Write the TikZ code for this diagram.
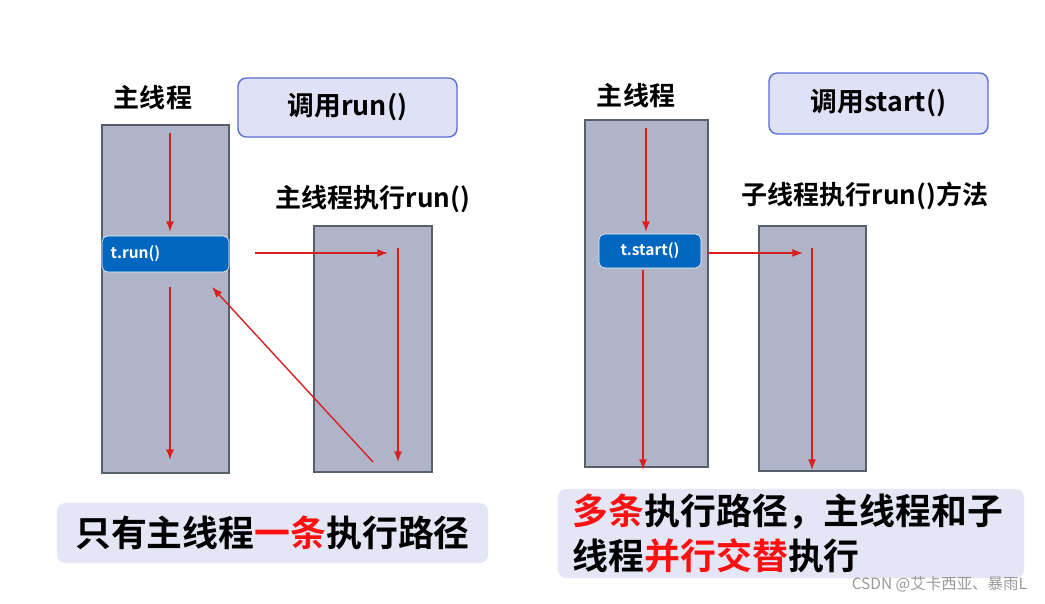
\documentclass[tikz,border=0pt]{standalone}
\usepackage{fontspec}
\setmainfont{Noto Sans CJK SC}[BoldFont={Noto Sans CJK SC Bold}]
\usetikzlibrary{arrows.meta,positioning}
\definecolor{colfill}{HTML}{B0B4C8}
\definecolor{colline}{HTML}{56606A}
\definecolor{callfill}{HTML}{DFE2F6}
\definecolor{callline}{HTML}{5B6FD6}
\definecolor{runblue}{HTML}{0066C0}
\definecolor{notefill}{HTML}{E4E6F6}
\definecolor{arrred}{HTML}{D92020}
\definecolor{hired}{HTML}{FF1010}

\begin{document}
\begin{tikzpicture}[x=0.025cm, y=-0.025cm, >=Latex]
\tikzset{
  column/.style = {rectangle, draw=colline, line width=1.2pt, fill=colfill, inner sep=0pt},
  callbox/.style = {rectangle, rounded corners=6pt, draw=callline, line width=1pt, fill=callfill, inner sep=0pt, font=\bfseries\fontsize{19}{22}\selectfont},
  invoke/.style = {rectangle, rounded corners=4pt, draw=white, fill=runblue, text=white, inner sep=0pt, font=\bfseries\fontsize{11}{12}\selectfont},
  note/.style = {rectangle, rounded corners=6pt, fill=notefill, inner sep=0pt, font=\bfseries\fontsize{25.5}{32}\selectfont},
  title/.style = {font=\bfseries\fontsize{18.5}{21}\selectfont},
  flow/.style = {->, arrred, line width=1pt}
}
\useasboundingbox (0,0) rectangle (1045,604);
\fill[white] (0,0) rectangle (1045,604);

% Left: calling run()
\node[title] (mainL) at (153,98) {主线程};
\node[callbox, minimum width=5.475cm, minimum height=1.475cm] (callrun) at (347.5,107.5) {调用run()};
\node[column, minimum width=3.175cm, minimum height=8.7cm] (colmainL) at (165.5,299) {};
\node[column, minimum width=2.95cm, minimum height=6.15cm] (colrunL) at (373,349) {};
\node[invoke, minimum width=3.175cm, minimum height=0.9cm] (trun) at (165.5,254) {\hspace*{-1.5cm}t.run()};
\node[title] (labelL) at (373,199) {主线程执行run()};
\coordinate (aL1) at (170,133); \coordinate (aL2) at (170,232);
\coordinate (aL3) at (170,287); \coordinate (aL4) at (170,460);
\coordinate (aL5) at (255,253); \coordinate (aL6) at (388,253);
\coordinate (aL7) at (398,248); \coordinate (aL8) at (398,462);
\coordinate (aL9) at (373,462); \coordinate (aL10) at (212,287);
\draw[flow] (aL1) -- (aL2);
\draw[flow] (aL3) -- (aL4);
\draw[flow] (aL5) -- (aL6);
\draw[flow] (aL7) -- (aL8);
\draw[flow] (aL9) -- (aL10);
\node[note, minimum width=10.775cm, minimum height=1.5cm] (noteL) at (272.5,533)
  {只有主线程\textcolor{hired}{一条}执行路径};

% Right: calling start()
\node[title] (mainR) at (636,96) {主线程};
\node[callbox, minimum width=5.475cm, minimum height=1.525cm] (callstart) at (878.5,103.5) {调用start()};
\node[column, minimum width=3.075cm, minimum height=8.675cm] (colmainR) at (646.5,293.5) {};
\node[column, minimum width=2.675cm, minimum height=6.125cm] (colrunR) at (812.5,348.5) {};
\node[invoke, minimum width=2.55cm, minimum height=0.85cm] (tstart) at (650,251) {t.start()};
\node[title] (labelR) at (865,196) {子线程执行run()方法};
\coordinate (aR1) at (646,128); \coordinate (aR2) at (646,232);
\coordinate (aR3) at (643,270); \coordinate (aR4) at (643,470);
\coordinate (aR5) at (708,253); \coordinate (aR6) at (803,253);
\coordinate (aR7) at (812,248); \coordinate (aR8) at (812,470);
\draw[flow] (aR1) -- (aR2);
\draw[flow] (aR3) -- (aR4);
\draw[flow] (aR5) -- (aR6);
\draw[flow] (aR7) -- (aR8);
\node[note, minimum width=11.65cm, minimum height=2.225cm] (noteR) at (791,533.5) {};
\node[anchor=west, font=\bfseries\fontsize{25.5}{32}\selectfont, align=left] (noteRtext) at (568,533.5)
  {\textcolor{hired}{多条}执行路径，主线程和子\\线程\textcolor{hired}{并行交替}执行};

\node[anchor=east, text=gray!80, font=\fontsize{11}{13}\selectfont] (mark) at (1032,584) {CSDN @艾卡西亚、暴雨L};
\end{tikzpicture}
\end{document}
